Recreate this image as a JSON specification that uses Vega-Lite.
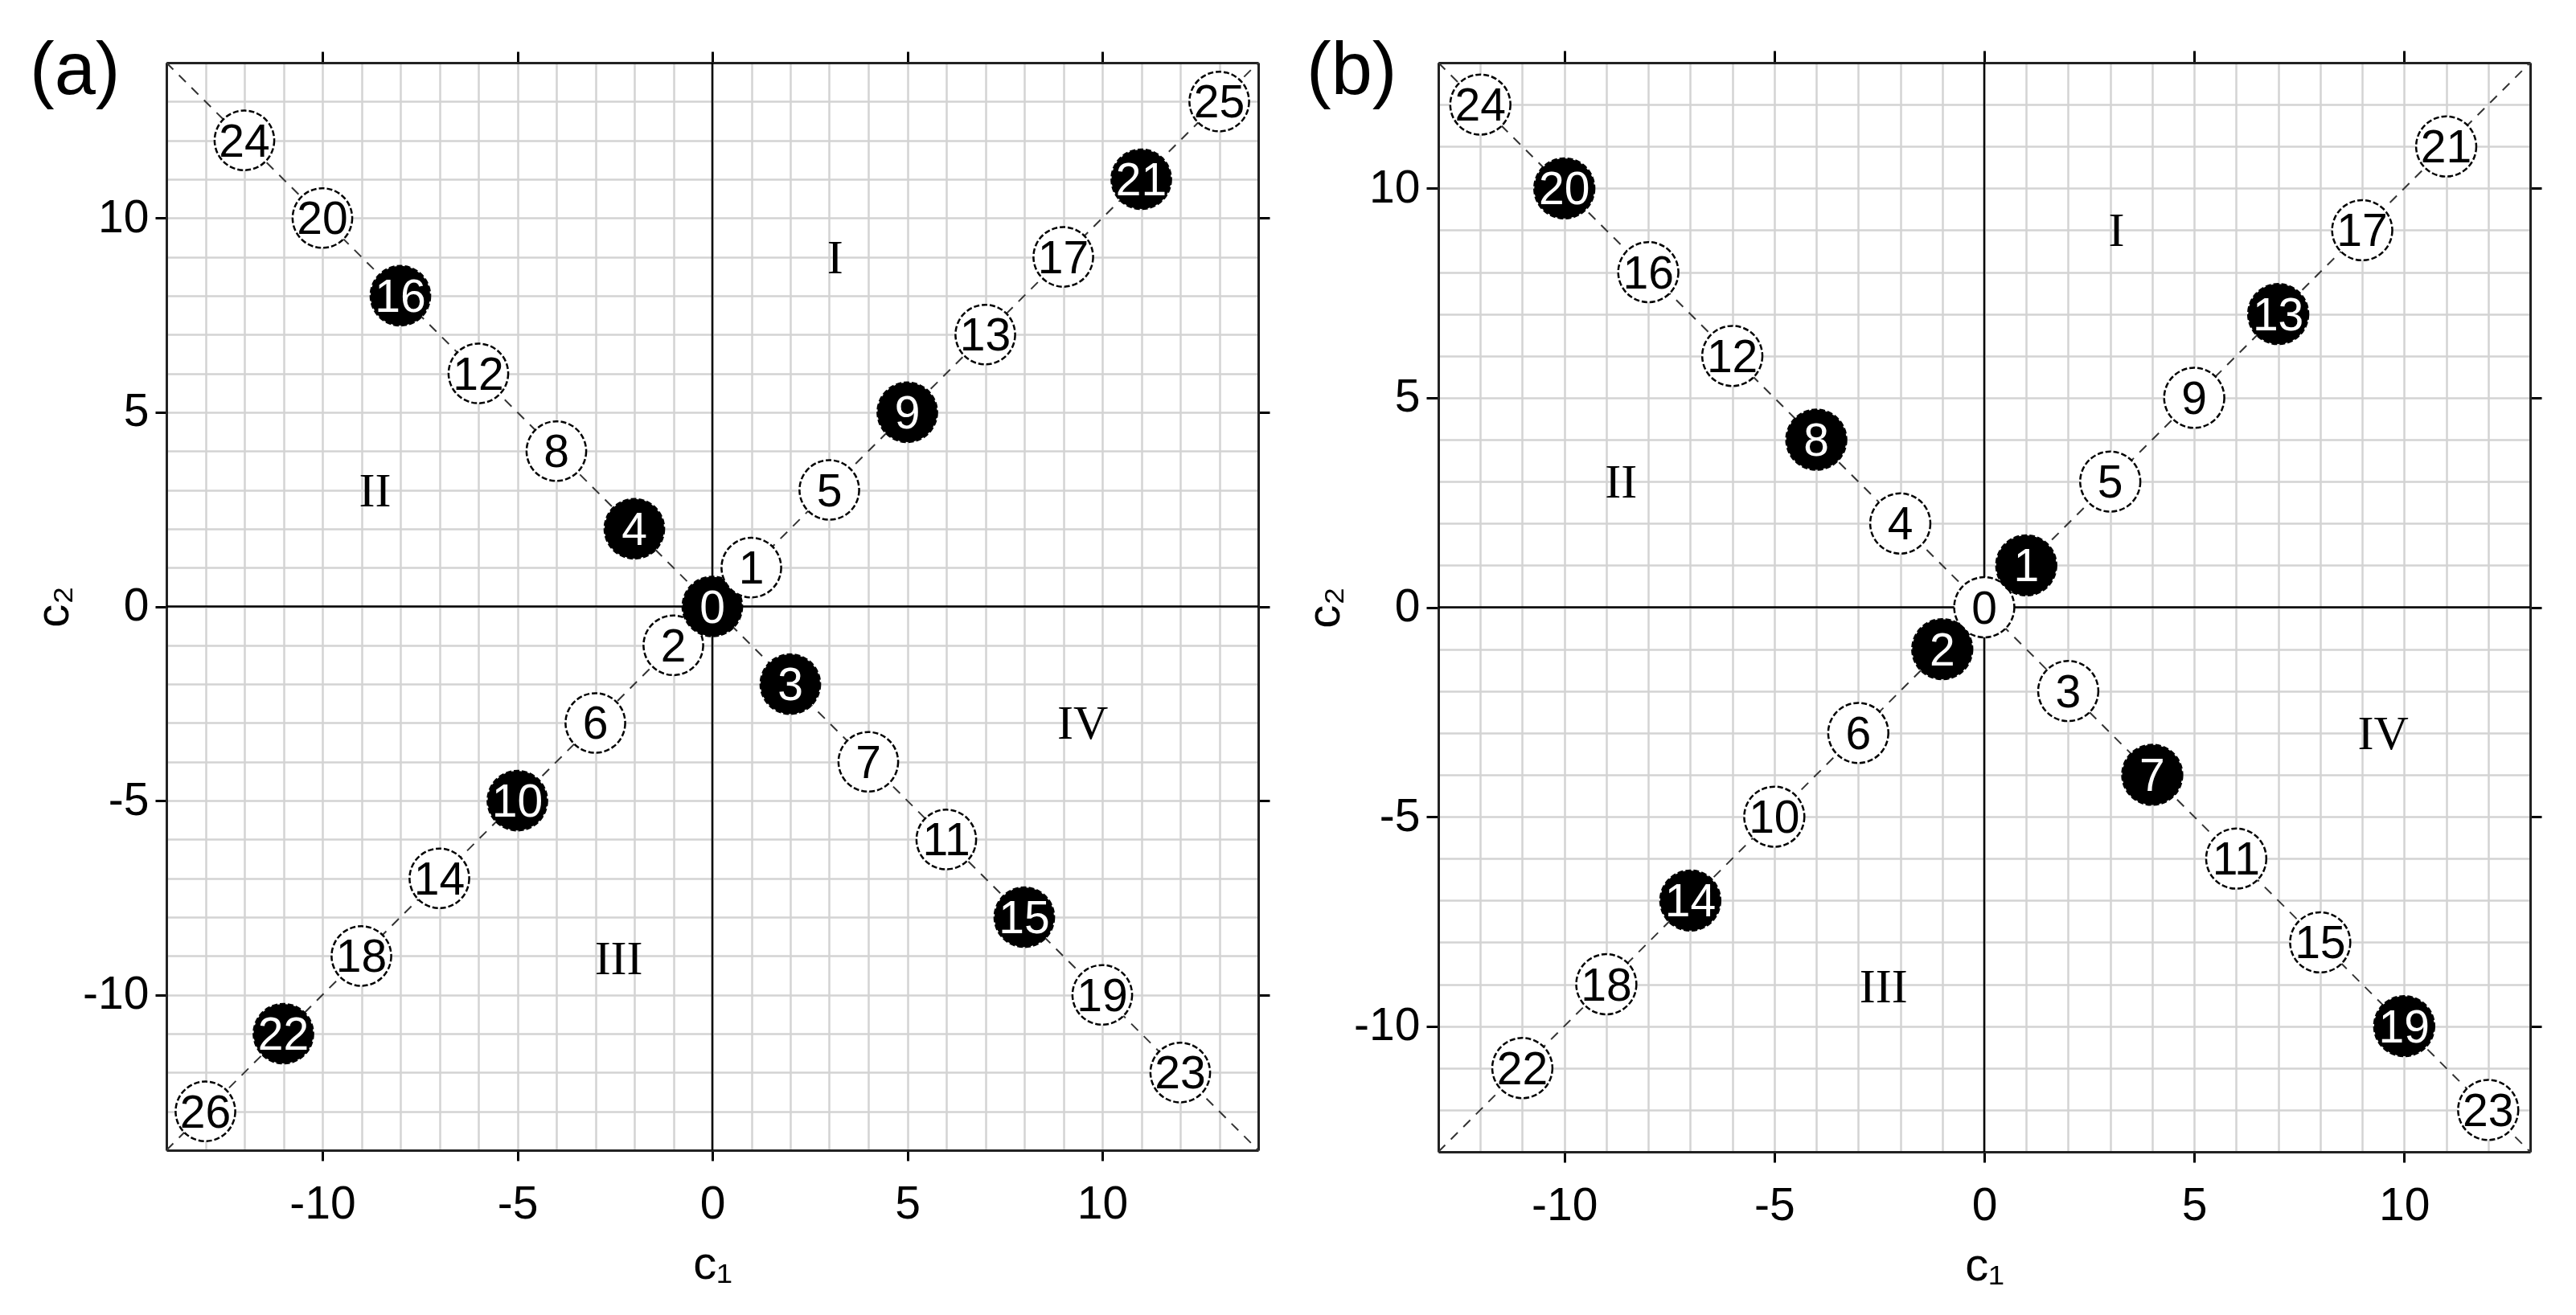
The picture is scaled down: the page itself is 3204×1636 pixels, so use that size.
{
  "$schema": "https://vega.github.io/schema/vega-lite/v6.json",
  "padding": {"left": 37, "top": 42, "right": 5, "bottom": 5},
  "background": "white",
  "config": {
    "view": {"stroke": null},
    "axis": {
      "labelFont": "Liberation Sans",
      "labelFontSize": 57,
      "labelColor": "black",
      "titleFont": "Liberation Sans",
      "titleFontSize": 58,
      "titleFontWeight": "normal",
      "titleColor": "black",
      "tickColor": "black",
      "tickWidth": 3,
      "tickSize": 14,
      "domainColor": "#222222",
      "domainWidth": 3,
      "gridColor": "#d3d3d3",
      "gridWidth": 2.5,
      "gridOpacity": 1
    },
    "title": {"font": "Liberation Sans", "fontSize": 92, "fontWeight": "normal", "color": "black"}
  },
  "datasets": {
    "zero": [{"v": 0}],
    "diag_a": [{"x": -14, "y": -14, "x2": 14, "y2": 14}, {"x": -14, "y": 14, "x2": 14, "y2": -14}],
    "diag_b": [{"x": -13, "y": -13, "x2": 13, "y2": 13}, {"x": -13, "y": 13, "x2": 13, "y2": -13}],
    "quad_a": [{"q": "I", "x": 3.15, "y": 9.0}, {"q": "II", "x": -8.65, "y": 3.0}, {"q": "III", "x": -2.4, "y": -9.05}, {"q": "IV", "x": 9.5, "y": -3.0}],
    "quad_b": [{"q": "I", "x": 3.15, "y": 9.0}, {"q": "II", "x": -8.65, "y": 3.0}, {"q": "III", "x": -2.4, "y": -9.05}, {"q": "IV", "x": 9.5, "y": -3.0}],
    "pts_a": [
      {"n": 2, "x": -1, "y": -1, "kind": "open"},
      {"n": 0, "x": 0, "y": 0, "kind": "filled"},
      {"n": 1, "x": 1, "y": 1, "kind": "open"},
      {"n": 3, "x": 2, "y": -2, "kind": "filled"},
      {"n": 4, "x": -2, "y": 2, "kind": "filled"},
      {"n": 5, "x": 3, "y": 3, "kind": "open"},
      {"n": 6, "x": -3, "y": -3, "kind": "open"},
      {"n": 7, "x": 4, "y": -4, "kind": "open"},
      {"n": 8, "x": -4, "y": 4, "kind": "open"},
      {"n": 9, "x": 5, "y": 5, "kind": "filled"},
      {"n": 10, "x": -5, "y": -5, "kind": "filled"},
      {"n": 11, "x": 6, "y": -6, "kind": "open"},
      {"n": 12, "x": -6, "y": 6, "kind": "open"},
      {"n": 13, "x": 7, "y": 7, "kind": "open"},
      {"n": 14, "x": -7, "y": -7, "kind": "open"},
      {"n": 15, "x": 8, "y": -8, "kind": "filled"},
      {"n": 16, "x": -8, "y": 8, "kind": "filled"},
      {"n": 17, "x": 9, "y": 9, "kind": "open"},
      {"n": 18, "x": -9, "y": -9, "kind": "open"},
      {"n": 19, "x": 10, "y": -10, "kind": "open"},
      {"n": 20, "x": -10, "y": 10, "kind": "open"},
      {"n": 21, "x": 11, "y": 11, "kind": "filled"},
      {"n": 22, "x": -11, "y": -11, "kind": "filled"},
      {"n": 23, "x": 12, "y": -12, "kind": "open"},
      {"n": 24, "x": -12, "y": 12, "kind": "open"},
      {"n": 25, "x": 13, "y": 13, "kind": "open"},
      {"n": 26, "x": -13, "y": -13, "kind": "open"}
    ],
    "pts_b": [
      {"n": 0, "x": 0, "y": 0, "kind": "open"},
      {"n": 1, "x": 1, "y": 1, "kind": "filled"},
      {"n": 2, "x": -1, "y": -1, "kind": "filled"},
      {"n": 3, "x": 2, "y": -2, "kind": "open"},
      {"n": 4, "x": -2, "y": 2, "kind": "open"},
      {"n": 5, "x": 3, "y": 3, "kind": "open"},
      {"n": 6, "x": -3, "y": -3, "kind": "open"},
      {"n": 7, "x": 4, "y": -4, "kind": "filled"},
      {"n": 8, "x": -4, "y": 4, "kind": "filled"},
      {"n": 9, "x": 5, "y": 5, "kind": "open"},
      {"n": 10, "x": -5, "y": -5, "kind": "open"},
      {"n": 11, "x": 6, "y": -6, "kind": "open"},
      {"n": 12, "x": -6, "y": 6, "kind": "open"},
      {"n": 13, "x": 7, "y": 7, "kind": "filled"},
      {"n": 14, "x": -7, "y": -7, "kind": "filled"},
      {"n": 15, "x": 8, "y": -8, "kind": "open"},
      {"n": 16, "x": -8, "y": 8, "kind": "open"},
      {"n": 17, "x": 9, "y": 9, "kind": "open"},
      {"n": 18, "x": -9, "y": -9, "kind": "open"},
      {"n": 19, "x": 10, "y": -10, "kind": "filled"},
      {"n": 20, "x": -10, "y": 10, "kind": "filled"},
      {"n": 21, "x": 11, "y": 11, "kind": "open"},
      {"n": 22, "x": -11, "y": -11, "kind": "open"},
      {"n": 23, "x": 12, "y": -12, "kind": "open"},
      {"n": 24, "x": -12, "y": 12, "kind": "open"}
    ]
  },
  "resolve": {"scale": {"x": "independent", "y": "independent", "fill": "independent", "color": "independent"}},
  "spacing": 38,
  "hconcat": [
    {
      "width": 1358,
      "height": 1353,
      "title": {"text": "(a)", "anchor": "start", "frame": "group", "dx": -170, "offset": -73},
      "resolve": {"axis": {"x": "independent", "y": "independent"}},
      "layer": [
        {
          "data": {"name": "zero"},
          "mark": {"type": "rule", "color": "black", "strokeWidth": 2.5},
          "encoding": {
            "x": {"field": "v", "type": "quantitative", "scale": {"domain": [-14, 14], "nice": false, "zero": false},
              "axis": {"orient": "bottom", "values": [-10, -5, 0, 5, 10], "grid": false, "title": "c₁", "labelExpr": "'' + datum.value", "tickSize": 13, "labelPadding": 26, "titlePadding": 18}}
          }
        },
        {
          "data": {"name": "zero"},
          "mark": {"type": "rule", "color": "black", "strokeWidth": 2.5},
          "encoding": {
            "y": {"field": "v", "type": "quantitative", "scale": {"domain": [-14, 14], "nice": false, "zero": false},
              "axis": {"orient": "left", "values": [-10, -5, 0, 5, 10], "grid": false, "title": "c₂", "labelExpr": "'' + datum.value", "tickSize": 14, "labelPadding": 8, "titlePadding": 6}}
          }
        },
        {
          "data": {"name": "diag_a"},
          "mark": {"type": "rule", "color": "#333333", "strokeWidth": 2, "strokeDash": [12, 10]},
          "encoding": {
            "x": {"field": "x", "type": "quantitative", "scale": {"domain": [-14, 14], "nice": false, "zero": false},
              "axis": {"orient": "top", "values": [-14, -13, -12, -11, -10, -9, -8, -7, -6, -5, -4, -3, -2, -1, 0, 1, 2, 3, 4, 5, 6, 7, 8, 9, 10, 11, 12, 13, 14], "grid": true, "labels": false, "title": null, "tickSize": 14,
                "tickOpacity": {"condition": {"test": "datum.value % 5 === 0", "value": 1}, "value": 0}}},
            "y": {"field": "y", "type": "quantitative", "scale": {"domain": [-14, 14], "nice": false, "zero": false},
              "axis": {"orient": "right", "values": [-14, -13, -12, -11, -10, -9, -8, -7, -6, -5, -4, -3, -2, -1, 0, 1, 2, 3, 4, 5, 6, 7, 8, 9, 10, 11, 12, 13, 14], "grid": true, "labels": false, "title": null, "tickSize": 14,
                "tickOpacity": {"condition": {"test": "datum.value % 5 === 0", "value": 1}, "value": 0}}},
            "x2": {"field": "x2"},
            "y2": {"field": "y2"}
          }
        },
        {
          "data": {"name": "pts_a"},
          "mark": {"type": "point", "shape": "circle", "filled": true, "stroke": "black", "strokeWidth": 2.5, "strokeDash": [7, 3], "size": 5500, "opacity": 1},
          "encoding": {
            "x": {"field": "x", "type": "quantitative", "axis": null},
            "y": {"field": "y", "type": "quantitative", "axis": null},
            "fill": {"field": "kind", "type": "nominal", "scale": {"domain": ["filled", "open"], "range": ["black", "white"]}, "legend": null}
          }
        },
        {
          "data": {"name": "pts_a"},
          "mark": {"type": "text", "font": "Liberation Sans", "fontSize": 57, "dy": 3},
          "encoding": {
            "x": {"field": "x", "type": "quantitative", "axis": null},
            "y": {"field": "y", "type": "quantitative", "axis": null},
            "text": {"field": "n", "type": "nominal"},
            "color": {"field": "kind", "type": "nominal", "scale": {"domain": ["filled", "open"], "range": ["white", "black"]}, "legend": null}
          }
        },
        {
          "data": {"name": "quad_a"},
          "mark": {"type": "text", "font": "Liberation Serif", "fontSize": 60, "color": "black", "dy": 2},
          "encoding": {
            "x": {"field": "x", "type": "quantitative", "axis": null},
            "y": {"field": "y", "type": "quantitative", "axis": null},
            "text": {"field": "q", "type": "nominal"}
          }
        }
      ]
    },
    {
      "width": 1358,
      "height": 1355,
      "title": {"text": "(b)", "anchor": "start", "frame": "group", "dx": -164, "offset": -74},
      "resolve": {"axis": {"x": "independent", "y": "independent"}},
      "layer": [
        {
          "data": {"name": "zero"},
          "mark": {"type": "rule", "color": "black", "strokeWidth": 2.5},
          "encoding": {
            "x": {"field": "v", "type": "quantitative", "scale": {"domain": [-13, 13], "nice": false, "zero": false},
              "axis": {"orient": "bottom", "values": [-10, -5, 0, 5, 10], "grid": false, "title": "c₁", "labelExpr": "'' + datum.value", "tickSize": 13, "labelPadding": 26, "titlePadding": 18}}
          }
        },
        {
          "data": {"name": "zero"},
          "mark": {"type": "rule", "color": "black", "strokeWidth": 2.5},
          "encoding": {
            "y": {"field": "v", "type": "quantitative", "scale": {"domain": [-13, 13], "nice": false, "zero": false},
              "axis": {"orient": "left", "values": [-10, -5, 0, 5, 10], "grid": false, "title": "c₂", "labelExpr": "'' + datum.value", "tickSize": 15, "labelPadding": 8, "titlePadding": 6}}
          }
        },
        {
          "data": {"name": "diag_b"},
          "mark": {"type": "rule", "color": "#333333", "strokeWidth": 2, "strokeDash": [12, 10]},
          "encoding": {
            "x": {"field": "x", "type": "quantitative", "scale": {"domain": [-13, 13], "nice": false, "zero": false},
              "axis": {"orient": "top", "values": [-13, -12, -11, -10, -9, -8, -7, -6, -5, -4, -3, -2, -1, 0, 1, 2, 3, 4, 5, 6, 7, 8, 9, 10, 11, 12, 13], "grid": true, "labels": false, "title": null, "tickSize": 15,
                "tickOpacity": {"condition": {"test": "datum.value % 5 === 0", "value": 1}, "value": 0}}},
            "y": {"field": "y", "type": "quantitative", "scale": {"domain": [-13, 13], "nice": false, "zero": false},
              "axis": {"orient": "right", "values": [-13, -12, -11, -10, -9, -8, -7, -6, -5, -4, -3, -2, -1, 0, 1, 2, 3, 4, 5, 6, 7, 8, 9, 10, 11, 12, 13], "grid": true, "labels": false, "title": null, "tickSize": 14,
                "tickOpacity": {"condition": {"test": "datum.value % 5 === 0", "value": 1}, "value": 0}}},
            "x2": {"field": "x2"},
            "y2": {"field": "y2"}
          }
        },
        {
          "data": {"name": "pts_b"},
          "mark": {"type": "point", "shape": "circle", "filled": true, "stroke": "black", "strokeWidth": 2.5, "strokeDash": [7, 3], "size": 5600, "opacity": 1},
          "encoding": {
            "x": {"field": "x", "type": "quantitative", "axis": null},
            "y": {"field": "y", "type": "quantitative", "axis": null},
            "fill": {"field": "kind", "type": "nominal", "scale": {"domain": ["filled", "open"], "range": ["black", "white"]}, "legend": null}
          }
        },
        {
          "data": {"name": "pts_b"},
          "mark": {"type": "text", "font": "Liberation Sans", "fontSize": 57, "dy": 3},
          "encoding": {
            "x": {"field": "x", "type": "quantitative", "axis": null},
            "y": {"field": "y", "type": "quantitative", "axis": null},
            "text": {"field": "n", "type": "nominal"},
            "color": {"field": "kind", "type": "nominal", "scale": {"domain": ["filled", "open"], "range": ["white", "black"]}, "legend": null}
          }
        },
        {
          "data": {"name": "quad_b"},
          "mark": {"type": "text", "font": "Liberation Serif", "fontSize": 60, "color": "black", "dy": 2},
          "encoding": {
            "x": {"field": "x", "type": "quantitative", "axis": null},
            "y": {"field": "y", "type": "quantitative", "axis": null},
            "text": {"field": "q", "type": "nominal"}
          }
        }
      ]
    }
  ]
}
